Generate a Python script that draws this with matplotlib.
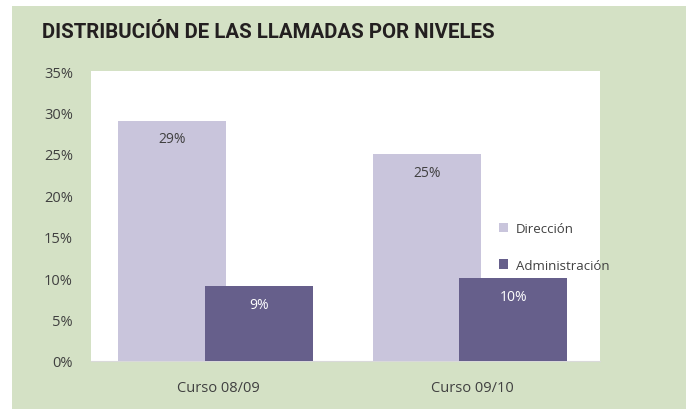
import matplotlib.pyplot as plt
import numpy as np
from matplotlib.patches import Rectangle
from matplotlib.ticker import PercentFormatter

# Data
cursos = ['Curso 08/09', 'Curso 09/10']
direccion = [29, 25]        # % llamadas Dirección
administracion = [9, 10]    # % llamadas Administración
series_names = ['Dirección', 'Administración']

light = '#c9c5dc'
dark = '#665f8b'
green = '#d4e1c5'

fig = plt.figure(figsize=(6.92, 4.10), dpi=100)
fig.patch.set_facecolor('white')
# green panel behind the chart
fig.patches.append(Rectangle((12 / 692, 0), (686 - 12) / 692, 1 - 7 / 410,
                             transform=fig.transFigure, facecolor=green,
                             edgecolor='none', zorder=-5))

ax = fig.add_axes([91 / 692, (410 - 362) / 410, (600 - 91) / 692, (362 - 72) / 410])
ax.set_facecolor('white')

x = np.arange(len(cursos))
w = 0.424
b1 = ax.bar(x - 0.181, direccion, w, color=light, label=series_names[0], zorder=2)
b2 = ax.bar(x + 0.159, administracion, w, color=dark, label=series_names[1], zorder=3)

for bars, vals, col in [(b1, direccion, '#404040'), (b2, administracion, 'white')]:
    for r, v in zip(bars, vals):
        ax.text(r.get_x() + r.get_width() / 2, v - 2.2, f'{v}%', ha='center',
                va='center', fontsize=10, color=col, family='Open Sans', zorder=4)

ax.set_xlim(-0.5, 1.5)
ax.set_ylim(0, 35)
ax.set_yticks(range(0, 36, 5))
ax.yaxis.set_major_formatter(PercentFormatter(decimals=0))
ax.set_xticks(x)
ax.set_xticklabels(cursos)
ax.tick_params(axis='y', length=0, pad=13, labelsize=10.5, labelcolor='#404040')
ax.tick_params(axis='x', length=0, pad=14, labelsize=10.5, labelcolor='#404040')
for lab in ax.get_xticklabels() + ax.get_yticklabels():
    lab.set_family('Open Sans')
for s in ['top', 'right', 'left']:
    ax.spines[s].set_visible(False)
ax.spines['bottom'].set_color('#d9d9d9')

leg = ax.legend(loc='center left', bbox_to_anchor=(0.778, 0.393), frameon=False,
                handlelength=0.7, handleheight=0.7, labelspacing=1.75,
                prop={'family': 'Open Sans', 'size': 9.5}, handletextpad=0.6)
for t in leg.get_texts():
    t.set_color('#404040')

fig.text(42 / 692, 1 - 32 / 410, 'DISTRIBUCIÓN DE LAS LLAMADAS POR NIVELES',
         fontsize=14.7, fontweight='bold', family='Roboto',
         va='center', ha='left', color='#231f20')

fig.savefig('out.png', dpi=100, facecolor=fig.get_facecolor())
